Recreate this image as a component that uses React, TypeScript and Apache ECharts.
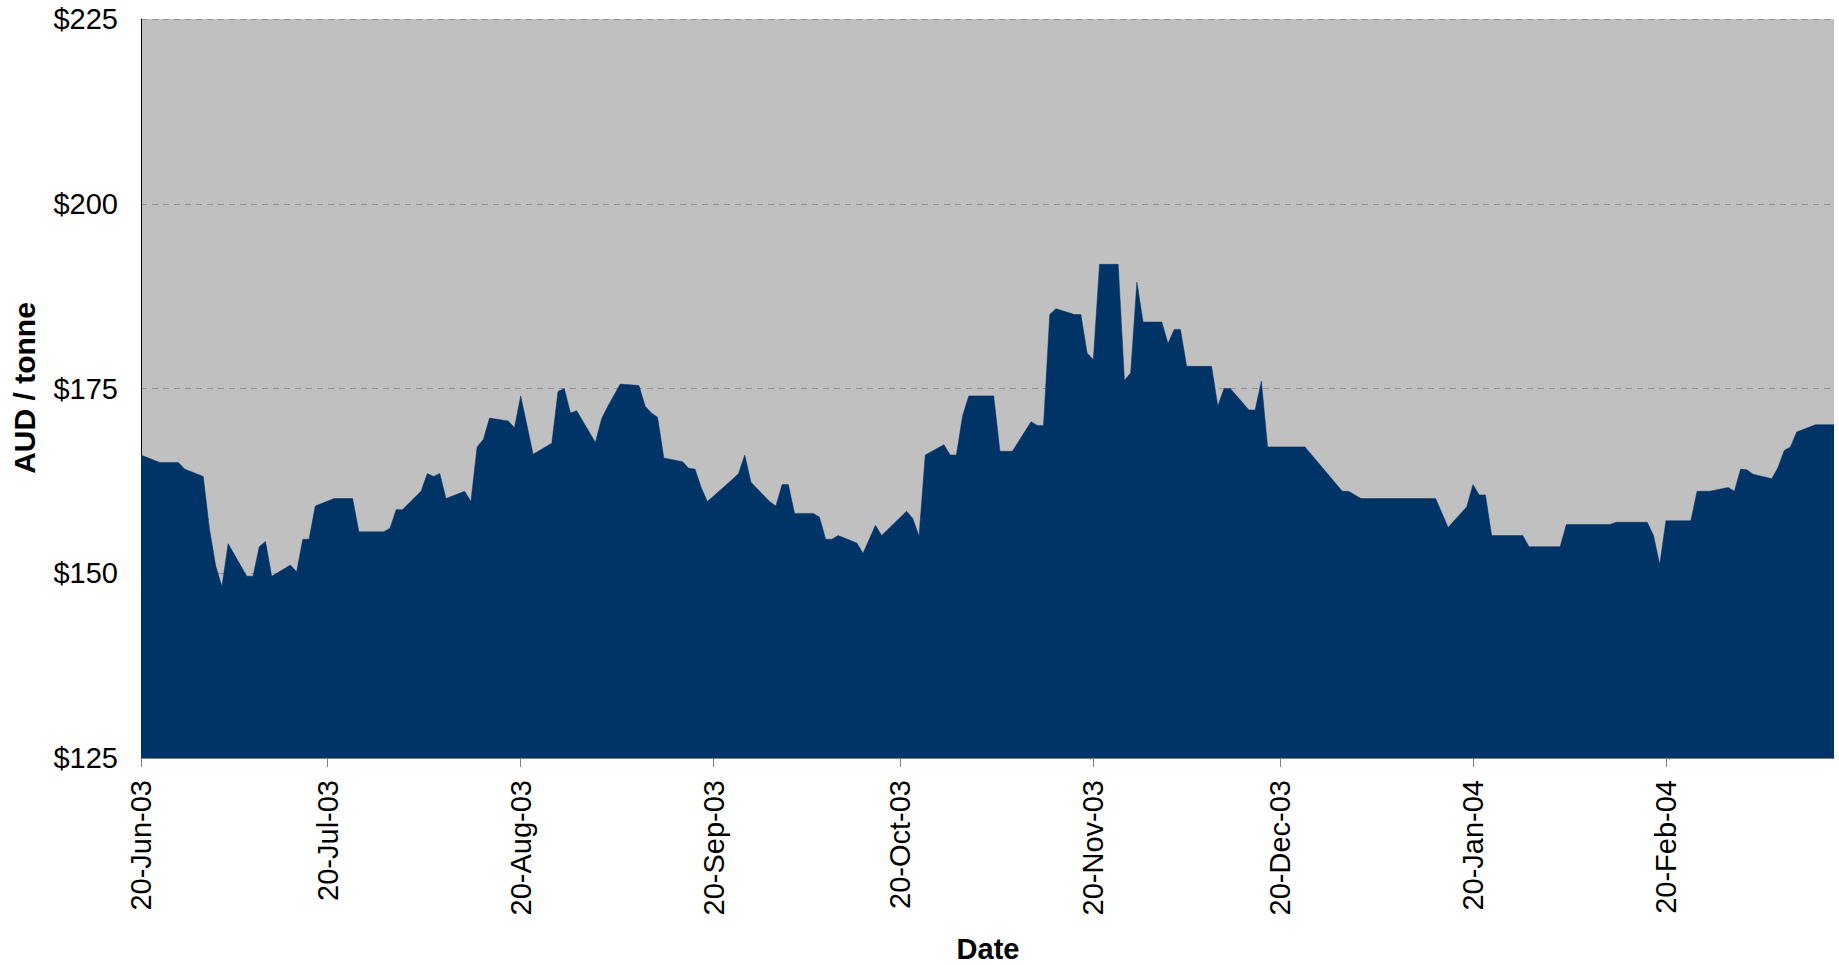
import React, { useEffect, useRef } from "react";
import * as echarts from "echarts";

const dates: string[] = [
  "2003-06-20", "2003-06-23", "2003-06-26", "2003-06-27", "2003-06-30",
  "2003-07-01", "2003-07-02", "2003-07-03", "2003-07-04", "2003-07-07",
  "2003-07-08", "2003-07-09", "2003-07-10", "2003-07-11", "2003-07-14",
  "2003-07-15", "2003-07-16", "2003-07-17", "2003-07-18", "2003-07-21",
  "2003-07-24", "2003-07-25", "2003-07-29", "2003-07-30", "2003-07-31",
  "2003-08-01", "2003-08-04", "2003-08-05", "2003-08-06", "2003-08-07",
  "2003-08-08", "2003-08-11", "2003-08-12", "2003-08-13", "2003-08-14",
  "2003-08-15", "2003-08-18", "2003-08-19", "2003-08-20", "2003-08-22",
  "2003-08-25", "2003-08-26", "2003-08-27", "2003-08-28", "2003-08-29",
  "2003-09-01", "2003-09-02", "2003-09-03", "2003-09-05", "2003-09-08",
  "2003-09-09", "2003-09-10", "2003-09-11", "2003-09-12", "2003-09-15",
  "2003-09-16", "2003-09-17", "2003-09-18", "2003-09-19", "2003-09-23",
  "2003-09-24", "2003-09-25", "2003-09-26", "2003-09-29", "2003-09-30",
  "2003-10-01", "2003-10-02", "2003-10-03", "2003-10-06", "2003-10-07",
  "2003-10-08", "2003-10-09", "2003-10-10", "2003-10-13", "2003-10-14",
  "2003-10-16", "2003-10-17", "2003-10-21", "2003-10-22", "2003-10-23",
  "2003-10-24", "2003-10-27", "2003-10-28", "2003-10-29", "2003-10-30",
  "2003-10-31", "2003-11-04", "2003-11-05", "2003-11-07", "2003-11-10",
  "2003-11-11", "2003-11-12", "2003-11-13", "2003-11-14", "2003-11-17",
  "2003-11-18", "2003-11-19", "2003-11-20", "2003-11-21", "2003-11-24",
  "2003-11-25", "2003-11-26", "2003-11-27", "2003-11-28", "2003-12-01",
  "2003-12-02", "2003-12-03", "2003-12-04", "2003-12-05", "2003-12-09",
  "2003-12-10", "2003-12-11", "2003-12-12", "2003-12-15", "2003-12-16",
  "2003-12-17", "2003-12-18", "2003-12-24", "2003-12-30", "2003-12-31",
  "2004-01-02", "2004-01-14", "2004-01-16", "2004-01-19", "2004-01-20",
  "2004-01-21", "2004-01-22", "2004-01-23", "2004-01-28", "2004-01-29",
  "2004-02-03", "2004-02-04", "2004-02-11", "2004-02-12", "2004-02-17",
  "2004-02-18", "2004-02-19", "2004-02-20", "2004-02-24", "2004-02-25",
  "2004-02-27", "2004-03-01", "2004-03-02", "2004-03-03", "2004-03-04",
  "2004-03-05", "2004-03-08", "2004-03-09", "2004-03-10", "2004-03-11",
  "2004-03-12", "2004-03-15", "2004-03-18",
];

const prices: number[] = [
  166.0, 165.0, 165.0, 164.1, 163.1,
  156.0, 151.0, 148.2, 154.0, 149.6,
  149.6, 153.6, 154.3, 149.6, 151.1,
  150.2, 154.6, 154.6, 159.1, 160.1,
  160.1, 155.6, 155.6, 156.1, 158.6,
  158.6, 161.1, 163.5, 163.1, 163.5,
  160.1, 161.1, 159.7, 167.1, 168.1,
  171.0, 170.6, 169.7, 174.0, 166.1,
  167.6, 174.6, 175.0, 171.7, 172.0,
  167.7, 170.9, 172.6, 175.6, 175.4,
  172.6, 171.7, 171.1, 165.6, 165.1,
  164.2, 164.1, 161.6, 159.7, 162.7,
  163.5, 166.0, 162.3, 159.7, 159.1,
  162.0, 162.0, 158.1, 158.1, 157.6,
  154.6, 154.6, 155.1, 154.1, 152.7,
  156.5, 155.1, 158.4, 157.4, 155.0,
  166.0, 167.4, 166.0, 166.0, 171.3,
  174.0, 174.0, 166.5, 166.5, 170.5,
  170.0, 170.0, 185.0, 185.8, 185.0,
  185.0, 179.8, 178.9, 191.8, 191.8,
  176.1, 177.1, 189.4, 184.0, 184.0,
  181.1, 183.0, 183.0, 178.0, 178.0,
  172.6, 175.0, 175.0, 172.1, 172.1,
  176.0, 167.1, 167.1, 161.1, 161.1,
  160.1, 160.1, 156.2, 159.0, 162.0,
  160.6, 160.6, 155.1, 155.1, 153.6,
  153.6, 156.6, 156.6, 156.9, 156.9,
  155.1, 151.2, 157.1, 157.1, 161.1,
  161.1, 161.6, 161.1, 164.1, 164.0,
  163.4, 162.8, 164.3, 166.6, 167.1,
  169.1, 170.1, 170.1,
];

const tickDates: string[] = [
  "2003-06-20", "2003-07-20", "2003-08-20", "2003-09-20", "2003-10-20",
  "2003-11-20", "2003-12-20", "2004-01-20", "2004-02-20",
];

const yTicks: number[] = [125, 150, 175, 200, 225];

const MONTHS = ["Jan", "Feb", "Mar", "Apr", "May", "Jun", "Jul", "Aug", "Sep", "Oct", "Nov", "Dec"];

function toTs(s: string): number {
  const [y, m, d] = s.split("-").map(Number);
  return Date.UTC(y, m - 1, d);
}

function fmtDate(v: number): string {
  const d = new Date(v);
  const yy = String(d.getUTCFullYear() % 100).padStart(2, "0");
  return `${d.getUTCDate()}-${MONTHS[d.getUTCMonth()]}-${yy}`;
}

const FONT = 'Arial, "Liberation Sans", sans-serif';

export default function App() {
  const ref = useRef<HTMLDivElement>(null);

  useEffect(() => {
    if (!ref.current) return;
    const chart = echarts.init(ref.current, undefined, { renderer: "svg" });
    const seriesData = dates.map((d, i) => [toTs(d), prices[i]]);
    const ticks = tickDates.map(toTs);

    chart.setOption({
      animation: false,
      backgroundColor: "#ffffff",
      grid: {
        left: 141,
        top: 19,
        right: 5,
        bottom: 207,
        show: true,
        backgroundColor: "#C0C0C0",
        borderWidth: 0,
      },
      xAxis: {
        type: "value",
        min: toTs(dates[0]),
        max: toTs(dates[dates.length - 1]),
        scale: true,
        axisLine: { show: true, lineStyle: { color: "#808080", width: 1 } },
        axisTick: {
          show: true,
          length: 9,
          customValues: ticks,
          lineStyle: { color: "#808080", width: 1 },
        },
        axisLabel: {
          customValues: ticks,
          rotate: 90,
          margin: 22,
          fontSize: 29,
          fontFamily: FONT,
          color: "#000000",
          formatter: (v: number) => fmtDate(v),
        },
        splitLine: { show: false },
      },
      yAxis: {
        type: "value",
        min: yTicks[0],
        max: yTicks[yTicks.length - 1],
        interval: 25,
        axisLine: { show: true, lineStyle: { color: "#000000", width: 1 } },
        axisTick: { show: false },
        axisLabel: {
          margin: 23,
          fontSize: 29,
          fontFamily: FONT,
          color: "#000000",
          formatter: (v: number) => "$" + v,
        },
        splitLine: {
          show: true,
          lineStyle: { color: "#8f8f8f", type: [6, 5], width: 1 },
        },
      },
      graphic: [
        {
          type: "text",
          x: 24,
          y: 388,
          rotation: Math.PI / 2,
          style: {
            text: "AUD / tonne",
            fontSize: 30,
            fontWeight: "bold",
            fontFamily: FONT,
            fill: "#000000",
            align: "center",
            verticalAlign: "middle",
          },
        },
        {
          type: "text",
          x: 988,
          y: 949,
          style: {
            text: "Date",
            fontSize: 29,
            fontWeight: "bold",
            fontFamily: FONT,
            fill: "#000000",
            align: "center",
            verticalAlign: "middle",
          },
        },
      ],
      series: [
        {
          type: "line",
          data: seriesData,
          symbol: "none",
          lineStyle: { color: "#003366", width: 0.5 },
          areaStyle: { color: "#003366", opacity: 1, origin: "start" },
          itemStyle: { color: "#003366" },
        },
      ],
    });

    return () => chart.dispose();
  }, []);

  return (
    <div
      ref={ref}
      style={{ position: "absolute", left: 0, top: 0, width: 1839, height: 965 }}
    />
  );
}
